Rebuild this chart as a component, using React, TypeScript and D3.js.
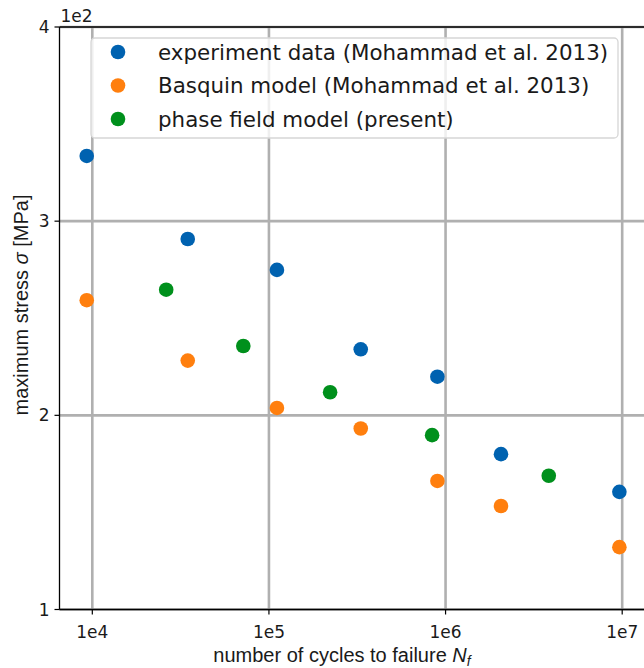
import React from "react";
import * as d3 from "d3";

// Fatigue life data: cycles to failure and maximum stress (MPa)
const expCycles = [9.3e3, 3.47e4, 1.11e5, 3.31e5, 8.99e5, 2.06e6, 9.64e6];
const expStress = [333.6, 290.8, 274.9, 234.0, 219.9, 180.0, 160.6];
const basquinCycles = [9.3e3, 3.47e4, 1.11e5, 3.31e5, 8.99e5, 2.06e6, 9.64e6];
const basquinStress = [259.3, 228.2, 203.8, 193.2, 166.2, 153.3, 132.1];
const pfCycles = [2.62e4, 7.16e4, 2.22e5, 8.39e5, 3.84e6];
const pfStress = [264.7, 235.7, 211.9, 189.8, 168.9];

const seriesNames = [
  "experiment data (Mohammad et al. 2013)",
  "Basquin model (Mohammad et al. 2013)",
  "phase field model (present)",
];
const seriesColors = ["#0062b0", "#ff7f0e", "#00901c"];

const xTicks = [1e4, 1e5, 1e6, 1e7];
const xTickLabels = ["1e4", "1e5", "1e6", "1e7"];
const yTicks = [100, 200, 300, 400];
const yTickLabels = ["1", "2", "3", "4"];

const W = 644;
const H = 668;
const left = 59.5;
const right = 648;
const top = 27;
const bottom = 609.5;
const font = "DejaVu Sans, sans-serif";
const labelFont = "Liberation Sans, Arial, sans-serif";

export default function App() {
  const x = d3.scaleLog().domain([6520, 1.4e7]).range([left, right]);
  const y = d3.scaleLinear().domain([100, 400]).range([bottom, top]);

  const series = [
    { xs: expCycles, ys: expStress },
    { xs: basquinCycles, ys: basquinStress },
    { xs: pfCycles, ys: pfStress },
  ];

  return (
    <svg
      width={W}
      height={H}
      style={{ position: "absolute", left: 0, top: 0, background: "#fff" }}
      fontFamily={font}
    >
      <defs>
        <clipPath id="plot">
          <rect x={left} y={top} width={right - left} height={bottom - top} />
        </clipPath>
      </defs>
      {/* grid */}
      <g stroke="#b0b0b0" strokeWidth={2.6}>
        {xTicks.map((t) => (
          <line key={"gx" + t} x1={x(t)} x2={x(t)} y1={top} y2={bottom} />
        ))}
        {yTicks.map((t) => (
          <line key={"gy" + t} x1={left} x2={right} y1={y(t)} y2={y(t)} />
        ))}
      </g>
      {/* points */}
      <g clipPath="url(#plot)">
        {series.map((s, i) =>
          s.xs.map((c, j) => (
            <circle
              key={i + "-" + j}
              cx={x(c)}
              cy={y(s.ys[j])}
              r={7.3}
              fill={seriesColors[i]}
            />
          ))
        )}
      </g>
      {/* spines */}
      <g stroke="#000" strokeWidth={1.3} fill="none">
        <line x1={left} x2={left} y1={top} y2={bottom} />
        <line x1={left} x2={right} y1={bottom} y2={bottom} />
        <line x1={left} x2={right} y1={top} y2={top} />
      </g>
      {/* x ticks */}
      {xTicks.map((t, i) => (
        <g key={"xt" + t}>
          <line x1={x(t)} x2={x(t)} y1={bottom} y2={bottom + 5} stroke="#000" strokeWidth={1.2} />
          <text x={x(t)} y={bottom + 28} fontSize={17} textAnchor="middle" fill="#1a1a1a">
            {xTickLabels[i]}
          </text>
        </g>
      ))}
      {/* y ticks */}
      {yTicks.map((t, i) => (
        <g key={"yt" + t}>
          <line x1={left - 5} x2={left} y1={y(t)} y2={y(t)} stroke="#000" strokeWidth={1.2} />
          <text x={left - 10} y={y(t) + 6} fontSize={17} textAnchor="end" fill="#1a1a1a">
            {yTickLabels[i]}
          </text>
        </g>
      ))}
      <text x={left + 1} y={top - 5} fontSize={17} fill="#1a1a1a">
        1e2
      </text>
      {/* axis labels */}
      <text
        x={342}
        y={662}
        fontSize={20}
        textAnchor="middle"
        fill="#1a1a1a"
        fontFamily={labelFont}
      >
        number of cycles to failure <tspan fontStyle="italic">N</tspan>
        <tspan fontStyle="italic" fontSize={14} dy={4}>f</tspan>
      </text>
      <text
        transform={`translate(28,305) rotate(-90)`}
        fontSize={20}
        textAnchor="middle"
        fill="#1a1a1a"
        fontFamily={labelFont}
      >
        maximum stress <tspan fontStyle="italic">σ</tspan> [MPa]
      </text>
      {/* legend */}
      <rect
        x={91}
        y={38}
        width={527}
        height={100}
        rx={4}
        fill="#fff"
        fillOpacity={0.8}
        stroke="#d6d6d6"
        strokeWidth={1.3}
      />
      {seriesNames.map((n, i) => (
        <g key={"lg" + i}>
          <circle cx={118} cy={52 + i * 33.5} r={7.3} fill={seriesColors[i]} />
          <text x={158} y={52 + i * 33.5 + 7.5} fontSize={21.4} fill="#1a1a1a">
            {n}
          </text>
        </g>
      ))}
    </svg>
  );
}
